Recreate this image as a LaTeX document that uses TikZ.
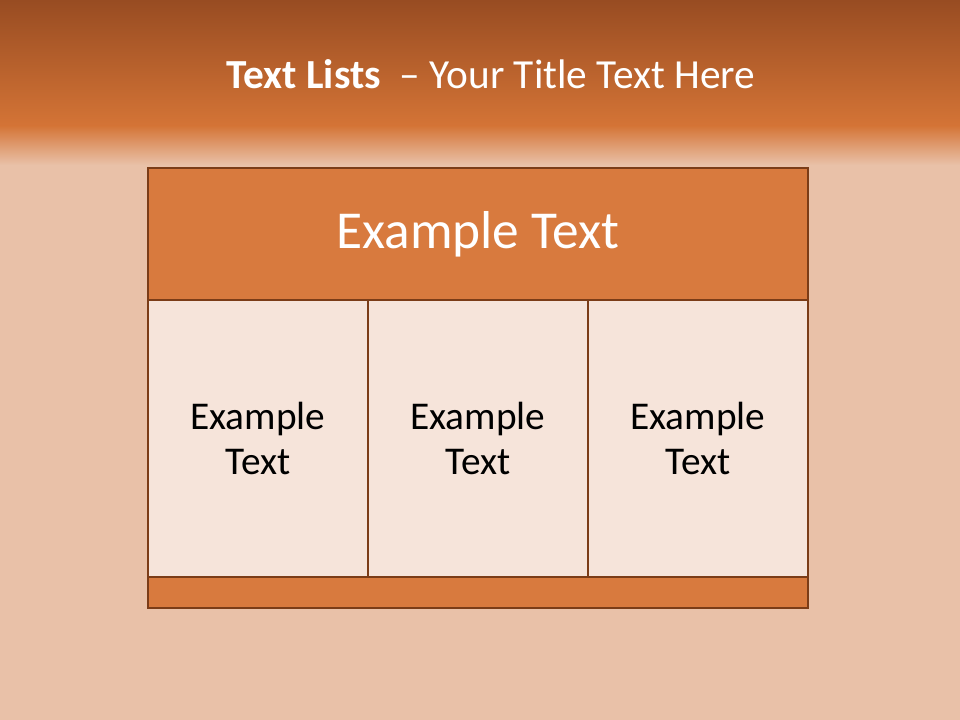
\documentclass[tikz,border=0pt]{standalone}
\usepackage{fontspec}
\setmainfont{Carlito}
\definecolor{bgpeach}{HTML}{E9C1A8}
\definecolor{bandtop}{HTML}{984C22}
\definecolor{bandmid}{HTML}{D47436}
\definecolor{hdrfill}{HTML}{D87A3E}
\definecolor{cellfill}{HTML}{F6E4DA}
\definecolor{edge}{HTML}{7B3C17}
\tikzset{
  hdrbox/.style={draw=edge, line width=2.2pt, fill=hdrfill, inner sep=0pt,
    minimum width=495pt, minimum height=99pt, text=white, font=\fontsize{40}{48}\selectfont},
  cellbox/.style={draw=edge, line width=2.2pt, fill=cellfill, inner sep=0pt,
    minimum width=165pt, minimum height=207.75pt, align=center, text=black,
    font=\fontsize{29.5}{34}\selectfont},
  barbox/.style={draw=edge, line width=2.2pt, fill=hdrfill, inner sep=0pt,
    minimum width=495pt, minimum height=23.25pt},
  titletext/.style={text=white, font=\fontsize{31}{36}\selectfont, inner sep=0pt}
}
\begin{document}
\begin{tikzpicture}[x=0.75pt,y=-0.75pt]
\useasboundingbox (0,0) rectangle (960,720);
% background
\fill[bgpeach] (0,0) rectangle (960,720);
\shade[top color=bandtop, bottom color=bandmid] (0,0) rectangle (960,126);
\shade[top color=bandmid, bottom color=bgpeach] (0,125.5) rectangle (960,165);
% title
\node[titletext] (title) at (491,74) {\textbf{Text Lists}\ \ – Your Title Text Here};
% table
\node[hdrbox] (hdr) at (478,234) {Example Text};
\node[cellbox] (c1) at (258,438.5) {Example\\Text};
\node[cellbox] (c2) at (478,438.5) {Example\\Text};
\node[cellbox] (c3) at (698,438.5) {Example\\Text};
\node[barbox] (bar) at (478,592.5) {};
\end{tikzpicture}
\end{document}
